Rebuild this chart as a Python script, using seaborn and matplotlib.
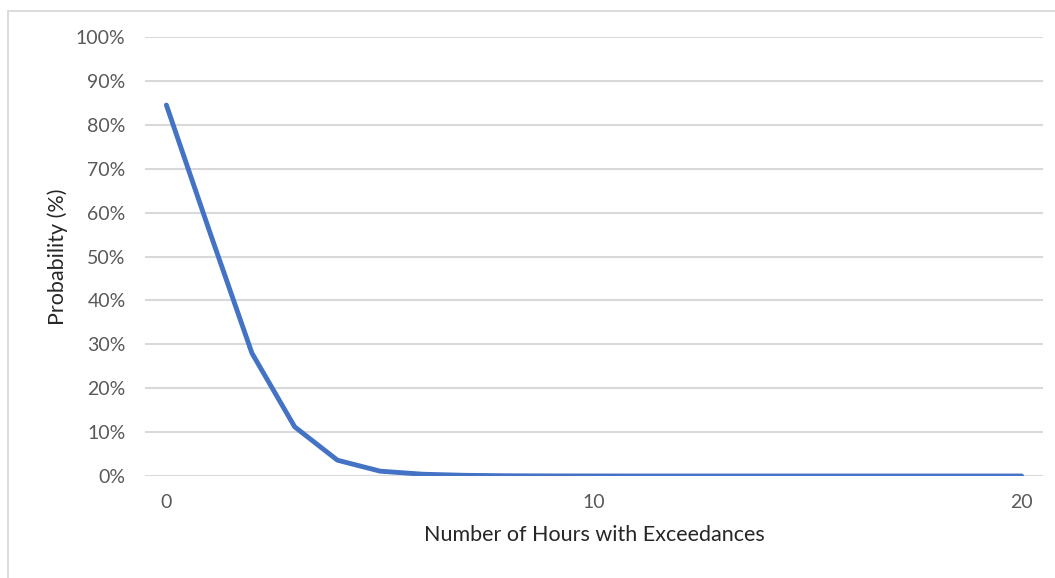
import matplotlib
matplotlib.use("Agg")
import matplotlib.pyplot as plt
from matplotlib.lines import Line2D
from matplotlib.ticker import PercentFormatter
import seaborn as sns
import pandas as pd

# Probability of observing a given number of hours with exceedances
hours = list(range(0, 21))
probability = [0.845, 0.56, 0.28, 0.112, 0.036, 0.011, 0.004, 0.0015, 0.0005,
               0.0002, 0.0001, 0.0, 0.0, 0.0, 0.0, 0.0, 0.0, 0.0, 0.0, 0.0, 0.0]
x_ticks = [0, 10, 20]
y_ticks = [i / 10 for i in range(11)]

df = pd.DataFrame({"hours": hours, "probability": probability})

sns.set_theme(style="white")
plt.rcParams["font.family"] = ["Lato", "DejaVu Sans"]

fig = plt.figure(figsize=(10.55, 5.78), dpi=100)
ax = fig.add_axes([145 / 1055, 1 - 476 / 578, (1043 - 145) / 1055, (476 - 37) / 578])

sns.lineplot(data=df, x="hours", y="probability", ax=ax, color="#4472C4",
             linewidth=3.5, solid_capstyle="round", solid_joinstyle="round",
             zorder=3)

ax.set_xlim(-0.5, 20.5)
ax.set_ylim(0, 1.0)
ax.set_xticks(x_ticks)
ax.set_yticks(y_ticks)
ax.yaxis.set_major_formatter(PercentFormatter(1.0, decimals=0))
ax.grid(axis="y", color="#D9D9D9", linewidth=1.5, zorder=0)
ax.grid(axis="x", visible=False)
for s in ax.spines.values():
    s.set_visible(False)
ax.tick_params(axis="both", length=0, labelsize=14, labelcolor="#595959")
ax.tick_params(axis="x", pad=13)
ax.tick_params(axis="y", pad=14)

ax.set_xlabel("Number of Hours with Exceedances", fontsize=15.5, color="#262626",
              labelpad=10)
ax.set_ylabel("Probability (%)", fontsize=15.5, color="#262626", labelpad=6)

# light chart-area frame (top and left edges)
fig.add_artist(Line2D([7.5 / 1055, 1.0], [1 - 11 / 578, 1 - 11 / 578],
                      transform=fig.transFigure, color="#D9D9D9", linewidth=1.3))
fig.add_artist(Line2D([7.5 / 1055, 7.5 / 1055], [0.0, 1 - 11 / 578],
                      transform=fig.transFigure, color="#D9D9D9", linewidth=1.3))

fig.savefig("out.png", dpi=100, facecolor="white")
